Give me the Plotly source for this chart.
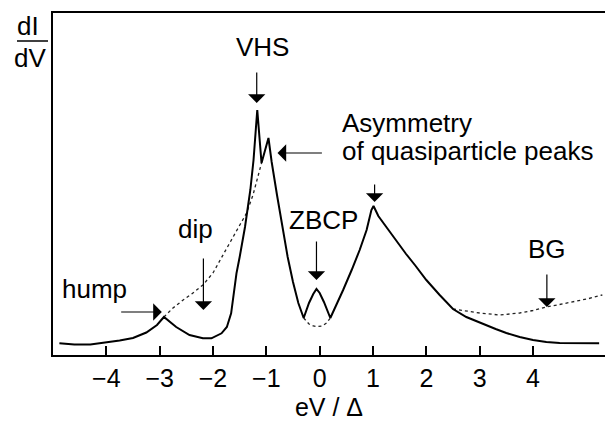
import plotly.graph_objects as go

# ---- data (x in eV/Delta, y in arbitrary dI/dV units) ----
solid_x = [-4.88, -4.6, -4.3, -4.0, -3.75, -3.5, -3.25, -3.05, -2.92,
           -2.69, -2.44, -2.19, -2.03, -1.84, -1.74, -1.66, -1.56, -1.5, -1.4, -1.3, -1.24, -1.17,
           -1.09, -0.96,
           -0.9, -0.8, -0.7, -0.6, -0.5, -0.4, -0.3,
           -0.2, -0.12, -0.06, 0.0, 0.08, 0.2,
           0.3, 0.44, 0.6, 0.75, 0.88, 0.97, 1.01,
           1.1, 1.25, 1.45, 1.62, 1.8, 2.0, 2.25, 2.5, 2.75, 3.06, 3.3, 3.5, 3.75, 4.0, 4.25, 4.5, 4.8, 5.24]
solid_y = [11.7, 10.5, 10.5, 12.5, 14.5, 17.0, 22.5, 30.0, 38.0,
           28.0, 20.0, 16.7, 16.7, 21.7, 28.0, 41.7, 81.7, 98.0, 128.0, 165.0, 195.0, 245.0,
           192.0, 217.0,
           193.0, 160.0, 128.0, 98.0, 73.0, 52.0, 37.0,
           52.0, 61.0, 66.0, 62.0, 53.0, 37.0,
           48.0, 65.0, 85.0, 105.0, 125.0, 145.0, 149.0,
           139.0, 128.0, 113.0, 101.0, 89.0, 75.0, 60.0, 46.0, 38.0, 31.0, 26.0, 22.0, 18.0, 15.0, 13.0, 12.0, 11.7, 11.7]

# normal-state / background curves (dotted), three separate segments
bg_left_x = [-2.92, -2.75, -2.56, -2.4, -2.19, -2.0, -1.75, -1.55, -1.37, -1.25, -1.17, -1.09]
bg_left_y = [38.0, 47.0, 55.0, 61.0, 70.0, 82.0, 106.0, 125.0, 142.0, 160.0, 175.0, 192.0]
bg_mid_x = [-0.3, -0.2, -0.12, -0.06, 0.05, 0.13, 0.2]
bg_mid_y = [37.0, 31.0, 29.0, 28.3, 29.0, 32.0, 37.0]
bg_right_x = [2.5, 2.75, 3.0, 3.37, 3.75, 4.0, 4.25, 4.5, 4.8, 5.05, 5.3]
bg_right_y = [46.0, 44.0, 42.0, 40.0, 42.0, 44.5, 48.0, 50.5, 53.5, 56.5, 60.0]

tick_vals = [-4, -3, -2, -1, 0, 1, 2, 3, 4]
tick_text = ["\u22124", "\u22123", "\u22122", "\u22121", "0", "1", "2", "3", "4"]

FONT = "Liberation Sans, Arial, Helvetica, sans-serif"
FS = 25
FA = 26

fig = go.Figure()
fig.add_trace(go.Scatter(
    x=bg_left_x + [None] + bg_mid_x + [None] + bg_right_x,
    y=bg_left_y + [None] + bg_mid_y + [None] + bg_right_y,
    mode="lines", connectgaps=False,
    line=dict(color="#222222", width=1.3, dash="dot"),
    hoverinfo="skip", showlegend=False))
fig.add_trace(go.Scatter(
    x=solid_x, y=solid_y, mode="lines",
    line=dict(color="black", width=2),
    hoverinfo="skip", showlegend=False))

def arrow(x, y, ax, ay):
    fig.add_annotation(x=x, y=y, ax=ax, ay=ay, xref="x", yref="y", axref="x", ayref="y",
                       text="", showarrow=True, arrowhead=1, arrowsize=2.4, arrowwidth=1.2,
                       arrowcolor="black")

def label(x, y, t, xanchor="center"):
    fig.add_annotation(x=x, y=y, xref="x", yref="y", text=t, showarrow=False,
                       xanchor=xanchor, yanchor="middle",
                       font=dict(family=FONT, size=FA, color="black"))

# VHS
label(-1.07, 308, "VHS")
arrow(-1.18, 252, -1.18, 284)
# asymmetry
label(0.39, 232, "Asymmetry", "left")
label(0.39, 204, "of quasiparticle peaks", "left")
arrow(-0.79, 202, 0.07, 202)
arrow(1.03, 153, 1.03, 172)
# ZBCP
label(0.07, 135, "ZBCP")
arrow(-0.06, 75, -0.06, 115)
# dip
label(-2.33, 126, "dip")
arrow(-2.18, 45, -2.18, 98)
# hump
label(-4.22, 66, "hump")
arrow(-2.96, 43, -3.75, 43)
# BG
label(4.27, 106, "BG")
arrow(4.26, 48, 4.26, 82)

# y-axis label dI/dV as a fraction
L, W, T, H = 53, 552, 13, 342
def px2paper(px, py):
    return (px - L) / W, (T + H - py) / H

x1, y1 = px2paper(27.5, 26)
x2, y2 = px2paper(30, 58)
fig.add_annotation(x=x1, y=y1, xref="paper", yref="paper", text="dI", showarrow=False,
                   xanchor="center", yanchor="middle", font=dict(family=FONT, size=FA, color="black"))
fig.add_annotation(x=x2, y=y2, xref="paper", yref="paper", text="dV", showarrow=False,
                   xanchor="center", yanchor="middle", font=dict(family=FONT, size=FA, color="black"))
lx0, ly = px2paper(17, 41)
lx1, _ = px2paper(48, 41)
fig.add_shape(type="line", xref="paper", yref="paper", x0=lx0, x1=lx1, y0=ly, y1=ly,
              line=dict(color="black", width=1.5))

fig.update_layout(
    width=608, height=421,
    margin=dict(l=L, r=608 - L - W, t=T, b=421 - T - H),
    plot_bgcolor="white", paper_bgcolor="white",
    font=dict(family=FONT, size=FS, color="black"),
    xaxis=dict(range=[-5.0, 5.35], showgrid=False, zeroline=False,
               showline=True, linecolor="black", linewidth=2, mirror=True,
               ticks="inside", ticklen=9, tickwidth=1.5, tickcolor="black",
               tickvals=tick_vals, ticktext=tick_text,
               tickfont=dict(family=FONT, size=FS, color="black"),
               title=dict(text="eV / \u0394", font=dict(family=FONT, size=FS, color="black"), standoff=8)),
    yaxis=dict(range=[0, 342], showgrid=False, zeroline=False,
               showline=True, linecolor="black", linewidth=2, mirror=False,
               showticklabels=False, ticks=""),
)

fig.write_html("out.html")
